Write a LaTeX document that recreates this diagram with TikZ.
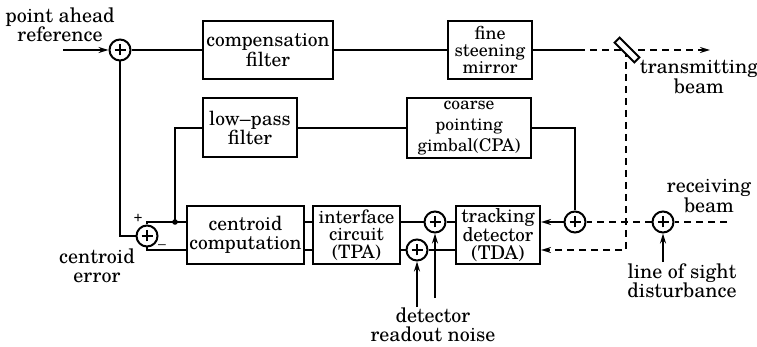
\documentclass[tikz,border=0pt]{standalone}
\usepackage{fontspec}
\setmainfont{texgyreschola}[Extension=.otf,UprightFont=*-regular,BoldFont=*-bold]
\usetikzlibrary{arrows.meta}
\begin{document}
\begin{tikzpicture}[x=1pt,y=-1pt,
  every node/.style={font=\fontsize{19.5}{19.5}\selectfont},
  blk/.style={draw,line width=2pt,align=center,inner sep=0pt},
  sumj/.style={circle,draw,line width=2pt,minimum size=21pt,inner sep=0pt,
    path picture={\draw[line width=1.6pt]
      ([xshift=-5.5pt]path picture bounding box.center) -- ([xshift=5.5pt]path picture bounding box.center)
      ([yshift=-5.5pt]path picture bounding box.center) -- ([yshift=5.5pt]path picture bounding box.center);}},
  ln/.style={line width=2pt},
  dsh/.style={line width=2pt,dash pattern=on 7pt off 5pt},
  arr/.style={-{Stealth[length=10pt,width=6pt]}},
  lbl/.style={align=center,inner sep=0pt,font=\fontsize{20}{19.5}\selectfont}
]
\useasboundingbox (0,0) rectangle (757,347);
% blocks
\node[blk,minimum width=130pt,minimum height=58pt] (comp) at (268,50) {compensation\\filter};
\node[blk,minimum width=84pt,minimum height=58pt,font=\fontsize{18}{17}\selectfont] (fsm) at (490,50) {fine\\steening\\mirror};
\node[blk,minimum width=94pt,minimum height=59pt] (lpf) at (250,128) {low–pass\\filter};
\node[blk,minimum width=124pt,minimum height=60pt,font=\fontsize{17.5}{21}\selectfont] (cpa) at (469,128) {coarse\\pointing\\gimbal(CPA)};
\node[blk,minimum width=117pt,minimum height=57pt] (cc) at (245.5,235) {centroid\\computation};
\node[blk,minimum width=87pt,minimum height=57pt,font=\fontsize{18.5}{17.5}\selectfont] (tpa) at (356.5,235) {interface\\circuit\\(TPA)};
\node[blk,minimum width=84pt,minimum height=57pt,font=\fontsize{19}{17.5}\selectfont] (tda) at (498,235) {tracking\\detector\\(TDA)};
% summing junctions
\node[sumj] (sA) at (120,50) {};
\node[sumj] (sB) at (147,236) {};
\node[sumj] (sC) at (575,222) {};
\node[sumj] (sD) at (435,222) {};
\node[sumj] (sE) at (417,250) {};
\node[sumj] (sF) at (663,222) {};
% coordinates
\coordinate (in) at (63,50);
\coordinate (ds) at (578,50);
\coordinate (tb) at (710,50);
\coordinate (mb) at (626,250);
\coordinate (ru) at (0,222);
\coordinate (rl) at (0,250);
\coordinate (dot) at (175,222);
\coordinate (n1) at (417,307);
\coordinate (n2) at (435,298);
\coordinate (rb) at (727,222);
\coordinate (los) at (663,262);
% top path
\draw[ln,arr] (in) -- (sA);
\draw[ln] (sA) -- (comp);
\draw[ln] (comp) -- (fsm);
\draw[ln] (fsm.east) -- (ds);
\draw[dsh,arr] (ds) -- (tb);
\draw[dsh,arr] (626,50) -- (mb) -- (mb -| tda.east);
\node[draw,line width=2pt,fill=white,minimum width=28pt,minimum height=7pt,inner sep=0pt,rotate=-45] (mir) at (627,50) {};
% feedback
\draw[ln] (sA) -- (sA |- sB) -- (sB);
\draw[ln] (sB.north) |- (cc.west |- ru);
\draw[ln] (sB.south) |- (cc.west |- rl);
\fill (dot) circle (2.8pt);
\draw[ln] (dot) |- (lpf.west);
\draw[ln] (lpf) -- (cpa);
\draw[ln] (cpa.east) -| (sC.north);
% bottom row
\draw[ln] (cc.east |- ru) -- (tpa.west |- ru);
\draw[ln] (cc.east |- rl) -- (tpa.west |- rl);
\draw[ln] (tpa.east |- ru) -- (sD);
\draw[ln] (sD) -- (tda.west |- ru);
\draw[ln] (tpa.east |- rl) -- (sE);
\draw[ln] (sE) -- (tda.west |- rl);
\draw[ln,arr] (n1) -- (sE.south);
\draw[ln,arr] (n2) -- (sD.south);
\draw[ln,arr] (sC) -- (tda.east |- ru);
\draw[dsh] (sF) -- (sC);
\draw[dsh] (rb) -- (sF);
\draw[ln,arr] (los) -- (sF.south);
% labels
\node[lbl] (l1) at (60,25) {point ahead\\reference};
\node[lbl] (l2) at (699,77) {transmitting\\beam};
\node[lbl] (l3) at (709,196) {receiving\\beam};
\node[lbl] (l4) at (682,281) {line of sight\\disturbance};
\node[lbl,font=\fontsize{20}{18.5}\selectfont] (l5) at (433,325) {detector\\readout noise};
\node[lbl] (l6) at (97,266) {centroid\\error};
\node[inner sep=0pt,font=\fontsize{14}{14}\selectfont] (pl) at (138,218) {+};
\node[inner sep=0pt,font=\fontsize{14}{14}\selectfont] (mi) at (162,247) {–};
\end{tikzpicture}
\end{document}
